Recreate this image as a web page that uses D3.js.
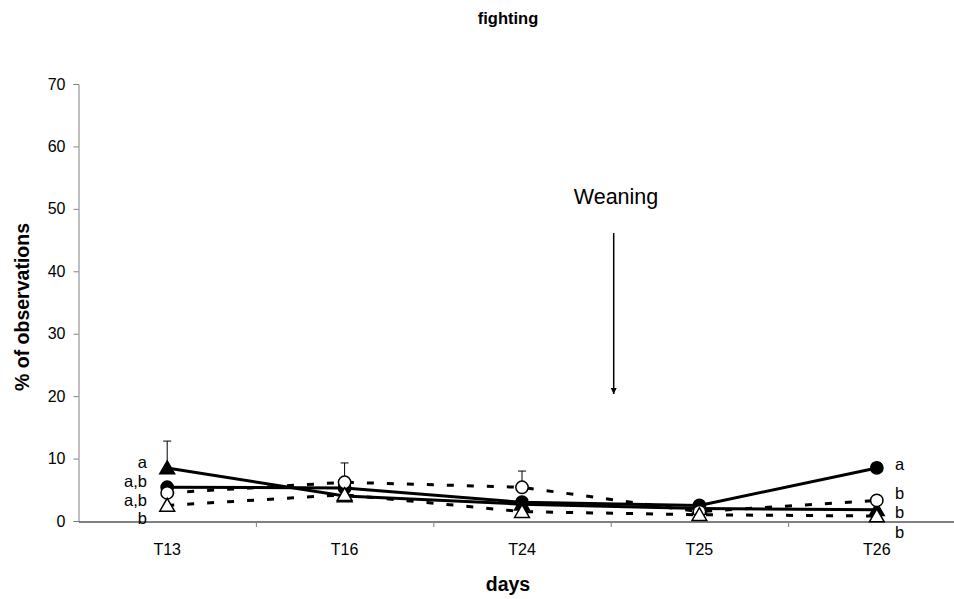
<!DOCTYPE html>
<html><head><meta charset="utf-8">
<script src="https://cdn.jsdelivr.net/npm/d3@7"></script>
<style>body{margin:0;background:#fff}svg{display:block;font-family:"Liberation Sans",Arial,sans-serif}</style>
</head><body><svg id="c" width="954" height="599"></svg>
<script>
const categories = ["T13","T16","T24","T25","T26"];
const yTicks = [0,10,20,30,40,50,60,70];
const filledCircle   = [5.4, 5.3, 3.0, 2.5, 8.5];
const filledTriangle = [8.5, 4.0, 2.7, 2.0, 1.8];
const openCircle     = [4.5, 6.2, 5.4, 1.5, 3.3];
const openTriangle   = [2.5, 4.2, 1.5, 1.0, 0.8];
const errFilledCircle   = [0, 0, 0, 0, 0.8];
const errFilledTriangle = [4.3, 0, 0, 0, 0];
const errOpenCircle     = [0, 3.1, 2.6, 0, 0];
const errOpenTriangle   = [0, 0, 0, 0, 0];
const leftLetters  = ["a","a,b","a,b","b"];
const leftLetterY  = [8.5, 5.45, 2.4, -0.45];
const rightLetters = ["a","b","b","b"];
const rightLetterY = [8.2, 3.5, 0.5, -2.7];

const FONT = "Liberation Sans, Arial, sans-serif";
const svg = d3.select("#c");
const x = d3.scaleBand().domain(categories).range([78.5, 965.5]);
const y = d3.scaleLinear().domain([0,70]).range([521, 84]);
const cx = d => x(d) + x.bandwidth()/2;

svg.append("text").attr("x",508).attr("y",24).attr("text-anchor","middle")
  .attr("font-weight","bold").attr("font-size",16.5).text("fighting");
const ya = svg.append("g").attr("transform","translate(78.5,0)")
  .call(d3.axisLeft(y).tickValues(yTicks).tickSize(5).tickPadding(8));
ya.select(".domain").attr("stroke","#808080");
ya.selectAll(".tick line").attr("stroke","#808080");
ya.selectAll("text").attr("font-size",16).attr("fill","#000").attr("font-family",FONT);
const xa = svg.append("g").attr("transform","translate(0,521.5)")
  .call(d3.axisBottom(x).tickSize(0).tickPadding(0));
xa.select(".domain").attr("stroke","#000");
xa.selectAll("text").attr("font-size",16).attr("fill","#000").attr("font-family",FONT)
  .attr("dy",null).attr("y",33.5);
svg.append("g").selectAll("line").data(categories.slice(1)).join("line")
  .attr("x1",d=>x(d)+0.5).attr("x2",d=>x(d)+0.5).attr("y1",521.5).attr("y2",527)
  .attr("stroke","#808080");

svg.append("text").attr("transform","translate(29,307) rotate(-90)").attr("text-anchor","middle")
  .attr("font-weight","bold").attr("font-size",19.5).text("% of observations");
svg.append("text").attr("x",508).attr("y",591).attr("text-anchor","middle")
  .attr("font-weight","bold").attr("font-size",19.5).text("days");

const wx = x("T25");
svg.append("text").attr("x",616).attr("y",204).attr("text-anchor","middle")
  .attr("font-size",21.5).text("Weaning");
svg.append("defs").append("marker").attr("id","ah").attr("viewBox","0 0 10 10")
  .attr("refX",10).attr("refY",5).attr("markerWidth",6).attr("markerHeight",8).attr("orient","auto")
  .attr("markerUnits","userSpaceOnUse")
  .append("path").attr("d","M0,0 L10,5 L0,10 Z").attr("fill","#000");
svg.append("line").attr("x1",wx+3).attr("x2",wx+3).attr("y1",233).attr("y2",394)
  .attr("stroke","#000").attr("stroke-width",1.5).attr("marker-end","url(#ah)");

const series = [
  {v: filledCircle, e: errFilledCircle, dash: null, shape: "circle", fill: "#000"},
  {v: filledTriangle, e: errFilledTriangle, dash: null, shape: "triangle", fill: "#000"},
  {v: openCircle, e: errOpenCircle, dash: "7,13", shape: "circle", fill: "#fff"},
  {v: openTriangle, e: errOpenTriangle, dash: "7,13", shape: "triangle", fill: "#fff"}
];
const line = d3.line().x((d,i)=>cx(categories[i])).y(d=>y(d));
const sym = {circle: d3.symbol().type(d3.symbolCircle).size(120),
             triangle: d3.symbol().type(d3.symbolTriangle).size(95)};
series.forEach(s => {
  const g = svg.append("g");
  s.v.forEach((v,i) => {
    if (s.e[i] > 0) {
      const px = cx(categories[i]);
      g.append("line").attr("x1",px).attr("x2",px).attr("y1",y(v)).attr("y2",y(v+s.e[i])).attr("stroke","#000");
      g.append("line").attr("x1",px-4).attr("x2",px+4).attr("y1",y(v+s.e[i])).attr("y2",y(v+s.e[i])).attr("stroke","#000");
    }
  });
  g.append("path").attr("d",line(s.v)).attr("fill","none").attr("stroke","#000")
    .attr("stroke-width",3).attr("stroke-dasharray",s.dash);
  g.selectAll(".m").data(s.v).join("path")
    .attr("transform",(d,i)=>`translate(${cx(categories[i])},${y(d) + (s.shape==="triangle"?1.5:0)})`)
    .attr("d",sym[s.shape]).attr("fill",s.fill).attr("stroke","#000").attr("stroke-width",1.5);
});

svg.append("g").selectAll("text").data(leftLetters).join("text")
  .attr("x",147).attr("y",(d,i)=>y(leftLetterY[i]))
  .attr("text-anchor","end").attr("font-size",16.5).text(d=>d);
svg.append("g").selectAll("text").data(rightLetters).join("text")
  .attr("x",895).attr("y",(d,i)=>y(rightLetterY[i]))
  .attr("text-anchor","start").attr("font-size",16.5).text(d=>d);
</script></body></html>
